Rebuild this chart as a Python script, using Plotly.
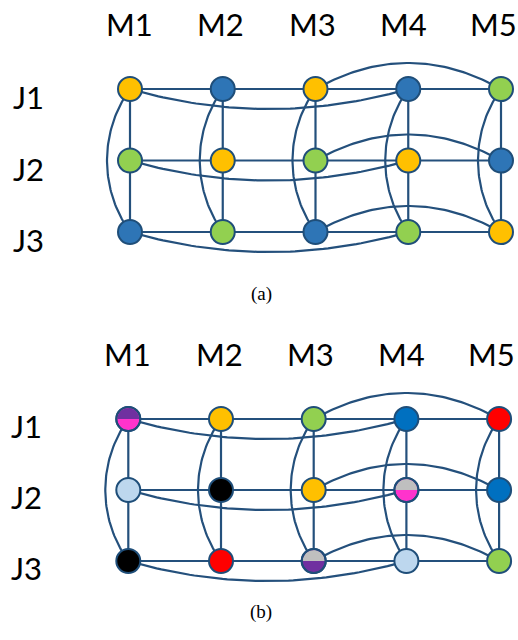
import numpy as np
import plotly.graph_objects as go

# ---------------- data ----------------
machines = ["M1", "M2", "M3", "M4", "M5"]
jobs = ["J1", "J2", "J3"]
captions = ["(a)", "(b)"]

palette = {
    "orange": "#FFC000", "blue": "#2E75B6", "green": "#92D050",
    "purple": "#7030A0", "magenta": "#FF33CC", "lightblue": "#BDD7EE",
    "black": "#000000", "red": "#FF0000", "gray": "#BFBFBF", "blue2": "#0070C0",
}

# node colours per job row (J1..J3) and machine column (M1..M5); "a/b" = top/bottom halves
colors_a = [
    ["orange", "blue", "orange", "blue", "green"],
    ["green", "orange", "green", "orange", "blue"],
    ["blue", "green", "blue", "green", "orange"],
]
colors_b = [
    ["purple/magenta", "orange", "green", "blue2", "red"],
    ["lightblue", "black", "orange", "gray/magenta", "blue2"],
    ["black", "red", "gray/purple", "lightblue", "green"],
]

# extra (non-adjacent) connections: (from machine, to machine, side) per job row
row_links = [(0, 3, "below"), (2, 4, "above")]
# every machine column links J1 to J3 by a curve bulging left
col_links = [(0, 2)]

# ---------------- layout geometry ----------------
W, H = 518, 640
panels = [
    dict(ox=130.0, oy=89.0, dx=92.75, dy=71.5, cap=(261, 294), jshift=-8),
    dict(ox=128.3, oy=419.0, dx=92.7, dy=71.0, cap=(261, 625), jshift=-7),
]
label_nudge = [-1, -2, -3, -5, -8]  # px nudges of the machine labels
EDGE = "#24507C"
OUT = "#1F4E79"
NODE = 24

fig = go.Figure()


def bez(p0, p1, p2, p3, n=60):
    t = np.linspace(0, 1, n)[:, None]
    p0, p1, p2, p3 = map(np.array, (p0, p1, p2, p3))
    pts = (1 - t) ** 3 * p0 + 3 * (1 - t) ** 2 * t * p1 + 3 * (1 - t) * t ** 2 * p2 + t ** 3 * p3
    return pts[:, 0], pts[:, 1]


for k, (pan, cols) in enumerate(zip(panels, [colors_a, colors_b])):
    xa = "x" if k == 0 else "x2"
    ya = "y" if k == 0 else "y2"
    dx, dy = pan["dx"], pan["dy"]
    nm, nj = len(machines), len(jobs)

    ex, ey = [], []
    # grid edges
    for j in range(nj):
        for i in range(nm - 1):
            ex += [i, i + 1, None]
            ey += [j, j, None]
    for i in range(nm):
        for j in range(nj - 1):
            ex += [i, i, None]
            ey += [j, j + 1, None]
    # row curves
    for j in range(nj):
        for a, b, side in row_links:
            depth = (20 if side == "below" else -26) / 0.75 / dy
            L = b - a
            bx, by = bez((a, j), (a + L / 3, j + depth), (b - L / 3, j + depth), (b, j))
            ex += list(bx) + [None]
            ey += list(by) + [None]
    # column curves
    for i in range(nm):
        for a, b in col_links:
            off = 23 / 0.75 / dx
            L = b - a
            bx, by = bez((i, a), (i - off, a + L * 0.3), (i - off, b - L * 0.3), (i, b))
            ex += list(bx) + [None]
            ey += list(by) + [None]
    fig.add_trace(go.Scatter(x=ex, y=ey, mode="lines", xaxis=xa, yaxis=ya,
                             line=dict(color=EDGE, width=2.2), hoverinfo="skip", showlegend=False))

    # nodes
    nx, ny, nc = [], [], []
    halves = []
    for j in range(nj):
        for i in range(nm):
            c = cols[j][i]
            if "/" in c:
                top, bot = c.split("/")
                halves.append((i, j, top))
                c = bot
            nx.append(i)
            ny.append(j)
            nc.append(palette[c])
    fig.add_trace(go.Scatter(x=nx, y=ny, mode="markers", xaxis=xa, yaxis=ya,
                             marker=dict(size=NODE, color=nc, line=dict(color=OUT, width=2)),
                             hoverinfo="skip", showlegend=False))
    for i, j, top in halves:
        t = np.linspace(0, np.pi, 40)
        r = NODE / 2 - 1
        px = list(i + r * np.cos(t) / dx)
        py = list(j - r * np.sin(t) / dy)
        fig.add_trace(go.Scatter(x=px + [px[0]], y=py + [py[0]], mode="lines", fill="toself",
                                 fillcolor=palette[top], line=dict(width=0),
                                 xaxis=xa, yaxis=ya, hoverinfo="skip", showlegend=False))
    if halves:
        fig.add_trace(go.Scatter(x=[h[0] for h in halves], y=[h[1] for h in halves], mode="markers",
                                 xaxis=xa, yaxis=ya,
                                 marker=dict(size=NODE, color="rgba(0,0,0,0)", line=dict(color=OUT, width=2)),
                                 hoverinfo="skip", showlegend=False))

    # labels
    for i, m in enumerate(machines):
        fig.add_annotation(x=i, y=0, xref=xa, yref=ya, text=m, showarrow=False,
                           xshift=label_nudge[i], yshift=65,
                           font=dict(family="Lato", size=31, color="black"))
    for j, jb in enumerate(jobs):
        fig.add_annotation(x=0, y=j, xref=xa, yref=ya, text=jb, showarrow=False,
                           xshift=-102, yshift=pan["jshift"], font=dict(family="Lato", size=31, color="black"))
    cx, cy = pan["cap"]
    fig.add_annotation(x=cx / W, y=1 - cy / H, xref="paper", yref="paper", text=captions[k],
                       showarrow=False, font=dict(family="Liberation Serif", size=19, color="black"))

    axx = dict(domain=[0, 1], range=[-pan["ox"] / dx, (W - pan["ox"]) / dx], visible=False, fixedrange=True)
    axy = dict(domain=[0, 1], range=[(H - pan["oy"]) / dy, -pan["oy"] / dy], visible=False, fixedrange=True)
    if k == 0:
        fig.update_layout(xaxis=axx, yaxis=dict(**axy, anchor="x"))
    else:
        fig.update_layout(xaxis2=dict(**axx, anchor="y2", overlaying="x"),
                          yaxis2=dict(**axy, anchor="x2", overlaying="y"))

fig.update_layout(width=W, height=H, margin=dict(l=0, r=0, t=0, b=0),
                  paper_bgcolor="white", plot_bgcolor="white", showlegend=False)
fig.write_html("out.html", config={"displayModeBar": False},
               post_script="document.body.style.margin='0';document.body.style.overflow='hidden';")
